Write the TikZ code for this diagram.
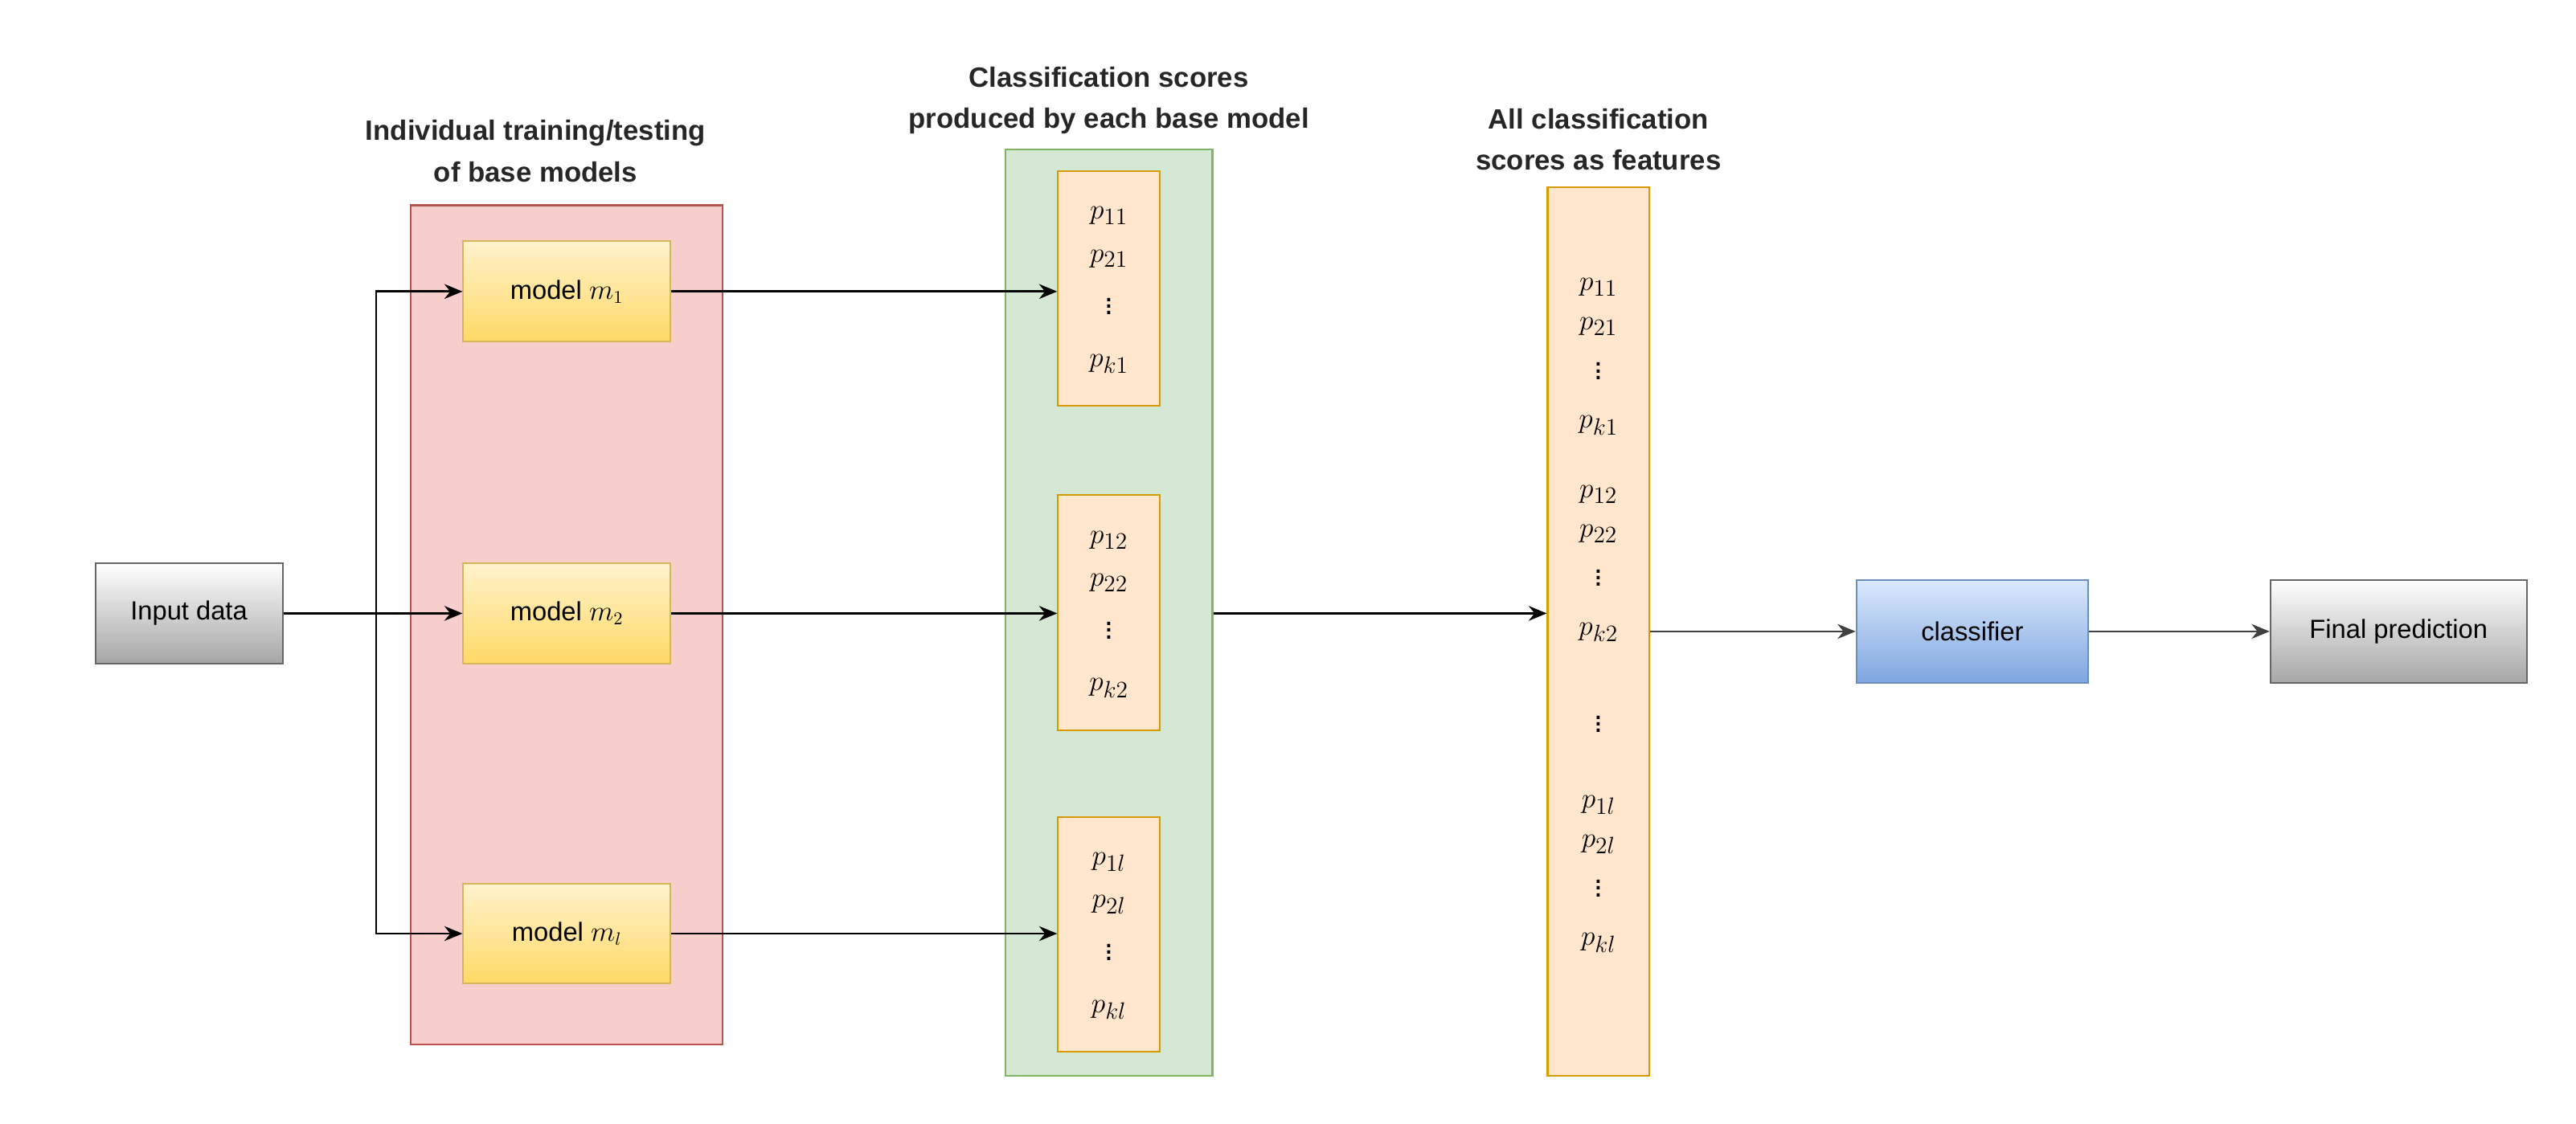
\documentclass[tikz,border=0pt]{standalone}
\usepackage{fontspec}
\setmainfont{Liberation Sans}
\usetikzlibrary{arrows.meta}
\definecolor{redf}{HTML}{F8CECC}\definecolor{redd}{HTML}{B85450}
\definecolor{grnf}{HTML}{D5E8D4}\definecolor{grnd}{HTML}{82B366}
\definecolor{orf}{HTML}{FFE6CC}\definecolor{ord}{HTML}{D79B00}
\definecolor{yt}{HTML}{FFF2CC}\definecolor{yb}{HTML}{FFD966}\definecolor{yd}{HTML}{D6B656}
\definecolor{bt}{HTML}{DAE8FC}\definecolor{bb}{HTML}{7EA6E0}\definecolor{bd}{HTML}{6C8EBF}
\begin{document}
\begin{tikzpicture}[x=1pt,y=-1pt,
  box/.style={draw,line width=1pt,minimum width=#1,inner sep=0pt},
  arr/.style={-{Stealth[length=11pt,width=9pt]},line width=1.3pt},
  ttl/.style={font=\fontsize{17}{25}\selectfont\bfseries,align=center,text=black!85},
  lbl/.style={font=\fontsize{16}{18}\selectfont},
  mth/.style={font=\fontsize{19}{19}\selectfont,inner sep=0pt}]
\useasboundingbox (0,0) rectangle (1568,684);
% containers
\node[box=190pt,minimum height=511pt,fill=redf,draw=redd] (red) at (345,380.5) {};
\node[box=126pt,minimum height=564pt,fill=grnf,draw=grnd] (grn) at (675,373) {};
\node[box=62pt,minimum height=541pt,fill=orf,draw=ord] (feat) at (973,384.5) {};
% titles
\node[ttl] (t1) at (326,92) {Individual training/testing\\of base models};
\node[ttl] (t2) at (675,61) {Classification scores\\produced by each base model};
\node[ttl] (t3) at (973,85) {All classification\\scores as features};
% input
\node[box=114pt,minimum height=61pt,draw=black!60,top color=white,bottom color=black!35,lbl] (in) at (115,373.5) {Input data};
% models
\foreach \n/\y/\s in {m1/177.5/1,m2/373.5/2,ml/568.5/l}{
  \node[box=126pt,minimum height=61pt,draw=yd,top color=yt,bottom color=yb,lbl] (\n) at (345,\y) {model $m_{\s}$};
}
% score boxes
\foreach \n/\y/\s in {s1/175.5/1,s2/373/2,sl/569/l}{
  \node[box=62pt,minimum height=143pt,fill=orf,draw=ord] (\n) at (675,\y) {};
  \node[mth] (\n a) at (675,\y-44) {$p_{1\s}$};
  \node[mth] (\n b) at (675,\y-18) {$p_{2\s}$};
  \node[mth] (\n c) at (675,\y+8) {$\vdots$};
  \node[mth] (\n d) at (675,\y+46) {$p_{k\s}$};
}
% feature contents
\foreach \n/\y/\s in {f1/175/1,f2/301/2,f3/490/l}{
  \node[mth] (\n a) at (973,\y) {$p_{1\s}$};
  \node[mth] (\n b) at (973,\y+24) {$p_{2\s}$};
  \node[mth] (\n c) at (973,\y+48) {$\vdots$};
  \node[mth] (\n d) at (973,\y+84) {$p_{k\s}$};
}
\node[mth] (fd) at (973,438) {$\vdots$};
% classifier and output
\node[box=141pt,minimum height=63pt,draw=bd,top color=bt,bottom color=bb,lbl] (cls) at (1200.5,384.5) {classifier};
\node[box=156pt,minimum height=63pt,draw=black!60,top color=white,bottom color=black!35,lbl] (out) at (1460,384.5) {Final prediction};
% connectors
\coordinate (br) at (229,373.5);
\draw[arr] (in) -- (m2);
\draw[arr] (br) |- (m1);
\draw[arr] (br) |- (ml);
\draw[arr] (m1) -- (s1.west |- m1);
\draw[arr] (m2) -- (s2.west |- m2);
\draw[arr] (ml) -- (sl.west |- ml);
\draw[arr] (grn.east |- m2) -- (feat.west |- m2);
\draw[arr,draw=black!75] (feat.east |- cls) -- (cls);
\draw[arr,draw=black!75] (cls) -- (out);
\end{tikzpicture}
\end{document}
